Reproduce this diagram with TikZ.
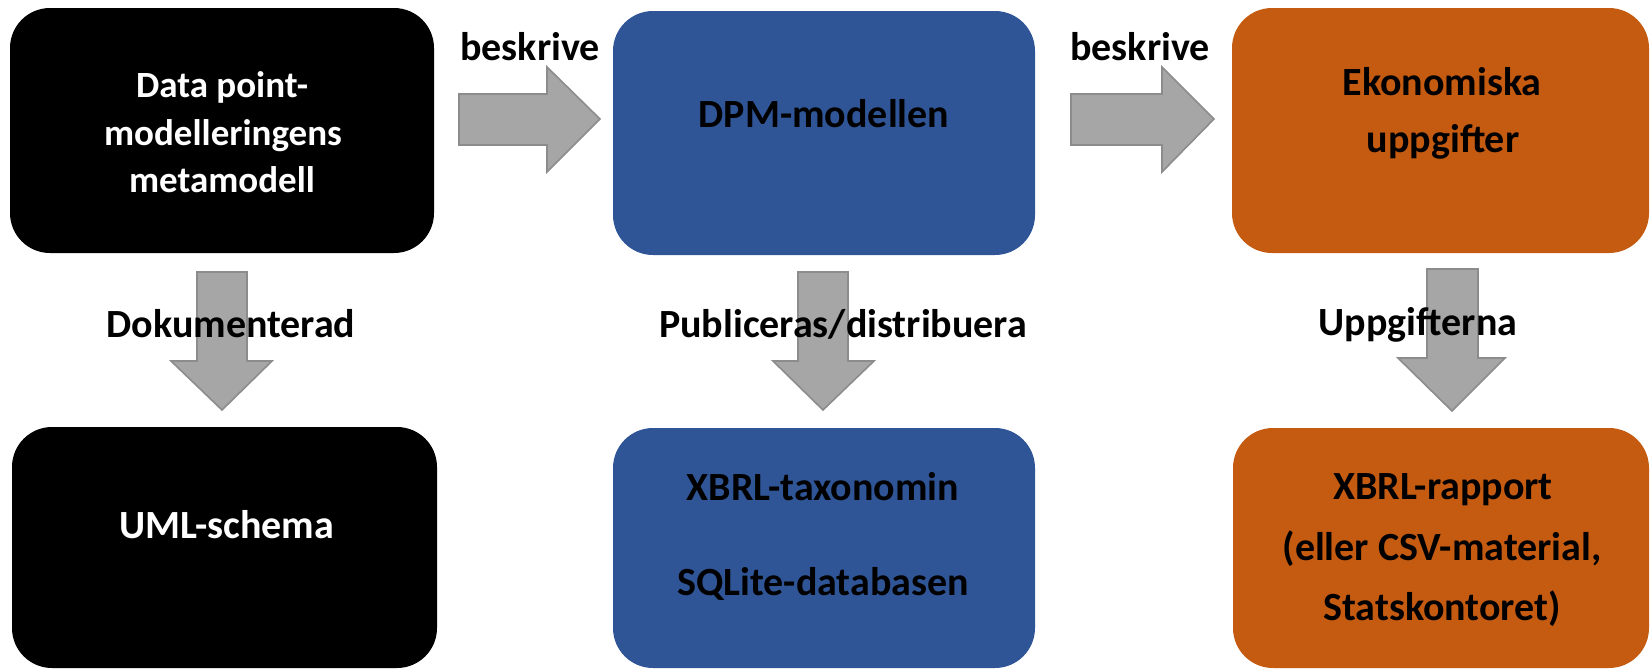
\documentclass[tikz,border=0pt]{standalone}
\usepackage{fontspec}
\setmainfont{Carlito}
\definecolor{dpmblue}{HTML}{2F5597}
\definecolor{dpmorange}{HTML}{C55A11}
\definecolor{arrfill}{HTML}{A6A6A6}
\definecolor{arrline}{HTML}{8C8C8C}
\begin{document}
\begin{tikzpicture}[x=0.5pt,y=-0.5pt,
  boxshape/.style={rounded corners=20pt, draw=none},
  blockarrow/.style={fill=arrfill, draw=arrline, line width=0.8pt, line join=miter},
  lbl/.style={anchor=base, inner sep=0pt, font=\fontsize{20pt}{24pt}\selectfont\bfseries, text=black},
  smalllbl/.style={anchor=base, inner sep=0pt, font=\fontsize{18.5pt}{22pt}\selectfont\bfseries, text=white}
]
\useasboundingbox (0,0) rectangle (1651,670);
% boxes
\path[boxshape, fill=black]      (10,8)    rectangle (434,253) coordinate (b1c);
\path[boxshape, fill=dpmblue]    (613,11)  rectangle (1035,255);
\path[boxshape, fill=dpmorange]  (1232,8)  rectangle (1649,253);
\path[boxshape, fill=black]      (12,427)  rectangle (437,668);
\path[boxshape, fill=dpmblue]    (613,428) rectangle (1035,668);
\path[boxshape, fill=dpmorange]  (1233,428) rectangle (1649,668);
% right arrows
\draw[blockarrow] (459,94) -- (547,94) -- (547,67) -- (600,119) -- (547,172) -- (547,145) -- (459,145) -- cycle;
\draw[blockarrow] (1071,94) -- (1162,94) -- (1162,67) -- (1214,119) -- (1162,172) -- (1162,145) -- (1071,145) -- cycle;
% down arrows
\draw[blockarrow] (197,272) -- (247,272) -- (247,361) -- (272,361) -- (222,410) -- (171,361) -- (197,361) -- cycle;
\draw[blockarrow] (798,272) -- (848,272) -- (848,361) -- (874,361) -- (823,410) -- (773,361) -- (798,361) -- cycle;
\draw[blockarrow] (1427,269) -- (1478,269) -- (1478,358) -- (1505,358) -- (1452,411) -- (1398,358) -- (1427,358) -- cycle;
% labels on arrows
\node[lbl] (l1) at (530,60) {beskrive};
\node[lbl] (l2) at (1140,60) {beskrive};
\node[lbl] (l3) at (231,337) {Dokumenterad};
\node[lbl] (l4) at (843,337) {Publiceras/distribuera};
\node[lbl] (l5) at (1418,335) {Uppgifterna};
% box texts
\node[smalllbl] (t1a) at (222,97)  {Data point-};
\node[smalllbl] (t1b) at (223,145) {modelleringens};
\node[smalllbl] (t1c) at (222,192) {metamodell};
\node[lbl] (t2) at (824,127) {DPM-modellen};
\node[lbl] (t3a) at (1442,95)  {Ekonomiska};
\node[lbl] (t3b) at (1443,152) {uppgifter};
\node[lbl, text=white] (t4) at (227,538) {UML-schema};
\node[lbl] (t5a) at (823,500) {XBRL-taxonomin};
\node[lbl] (t5b) at (823,595) {SQLite-databasen};
\node[lbl] (t6a) at (1443,499) {XBRL-rapport};
\node[lbl] (t6b) at (1442,560) {(eller CSV-material,};
\node[lbl] (t6c) at (1442,620) {Statskontoret)};
\end{tikzpicture}
\end{document}
